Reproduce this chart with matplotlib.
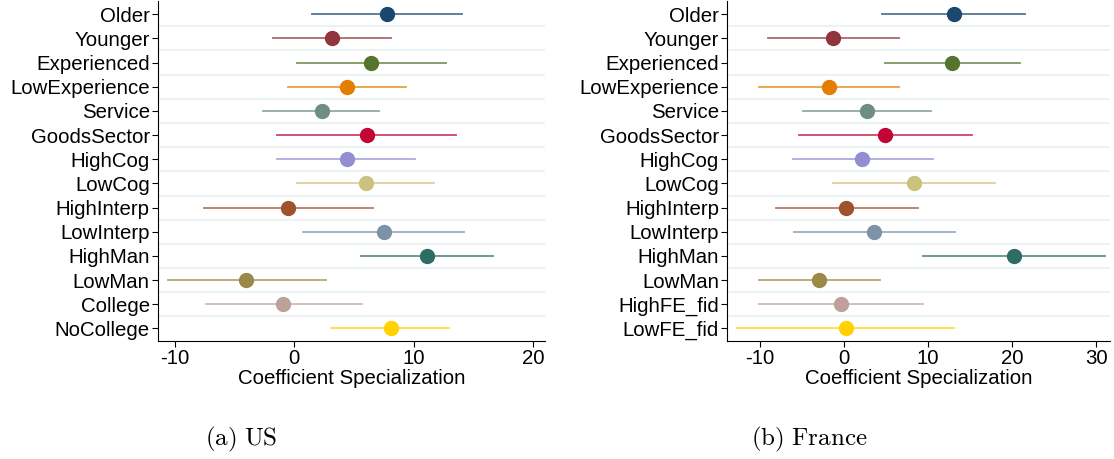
import matplotlib
matplotlib.use("Agg")
import matplotlib.pyplot as plt

plt.rcParams["font.family"] = ["Liberation Sans", "DejaVu Sans"]
plt.rcParams["mathtext.fontset"] = "cm"

us_labels = ["Older", "Younger", "Experienced", "LowExperience", "Service", "GoodsSector",
             "HighCog", "LowCog", "HighInterp", "LowInterp", "HighMan", "LowMan",
             "College", "NoCollege"]
us_coef = [7.8, 3.2, 6.4, 4.4, 2.3, 6.1, 4.4, 6.0, -0.5, 7.5, 11.1, -4.0, -0.9, 8.1]
us_lo = [1.5, -1.8, 0.2, -0.5, -2.6, -1.4, -1.4, 0.25, -7.6, 0.75, 5.6, -10.6, -7.4, 3.1]
us_hi = [14.1, 8.1, 12.7, 9.4, 7.1, 13.6, 10.1, 11.7, 6.6, 14.2, 16.7, 2.65, 5.7, 13.0]

fr_labels = ["Older", "Younger", "Experienced", "LowExperience", "Service", "GoodsSector",
             "HighCog", "LowCog", "HighInterp", "LowInterp", "HighMan", "LowMan",
             "HighFE_fid", "LowFE_fid"]
fr_coef = [13.1, -1.3, 12.9, -1.75, 2.7, 4.9, 2.2, 8.3, 0.3, 3.6, 20.2, -2.9, -0.3, 0.2]
fr_lo = [4.5, -9.05, 4.9, -10.1, -4.9, -5.3, -6.1, -1.35, -8.05, -5.95, 9.4, -10.1, -10.1, -12.7]
fr_hi = [21.6, 6.6, 20.9, 6.6, 10.4, 15.2, 10.6, 18.0, 8.8, 13.2, 31.1, 4.3, 9.4, 13.1]

colors = ["#1a476f", "#90353b", "#55752f", "#e37e00", "#6e8e84", "#c10534", "#938dd2",
          "#cac27e", "#a0522d", "#7b92a8", "#2d6d66", "#9c8847", "#bfa19c", "#ffd200"]

fig = plt.figure(figsize=(11.14, 4.59), dpi=100)


def panel(rect, labels, coef, lo, hi, xlim, xticks, caption, cap_x):
    ax = fig.add_axes(rect)
    n = len(labels)
    for i in range(n):
        ax.plot([lo[i], hi[i]], [i, i], color=colors[i], lw=1.3, alpha=0.75, zorder=2)
        ax.plot(coef[i], i, "o", color=colors[i], ms=10, zorder=3)
    for i in range(n - 1):
        ax.axhline(i + 0.5, color="#eaf2f3", lw=1.5, zorder=1)
    ax.set_ylim(n - 0.5, -0.55)
    ax.set_xlim(*xlim)
    ax.set_yticks(range(n))
    ax.set_yticklabels(labels, fontsize=14.7)
    ax.set_xticks(xticks)
    ax.set_xticklabels([str(t) for t in xticks], fontsize=14.7)
    ax.set_xlabel("Coefficient Specialization", fontsize=14.7, labelpad=1)
    for s in ["top", "right"]:
        ax.spines[s].set_visible(False)
    ax.tick_params(length=4, pad=2)
    fig.text(cap_x, 0.03, caption, fontsize=18, ha="left")


panel([0.142, 0.258, 0.347, 0.74], us_labels, us_coef, us_lo, us_hi, (-11.4, 21.0),
      [-10, 0, 10, 20], r"$\mathrm{(a)\ US}$", 0.184)
panel([0.653, 0.258, 0.343, 0.74], fr_labels, fr_coef, fr_lo, fr_hi, (-13.85, 31.6),
      [-10, 0, 10, 20, 30], r"$\mathrm{(b)\ France}$", 0.674)

fig.savefig("out.png", dpi=100, facecolor="white")
